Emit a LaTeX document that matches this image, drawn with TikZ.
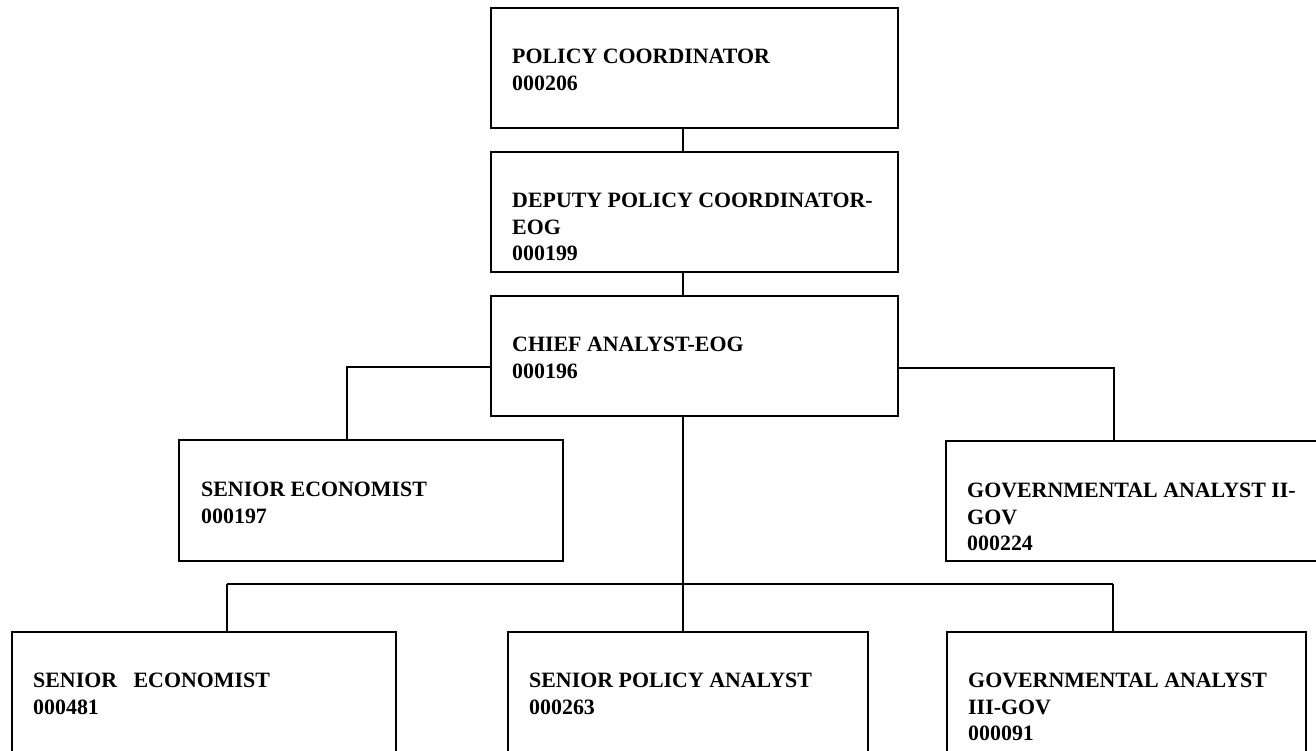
\documentclass[tikz,border=0pt]{standalone}
\usepackage{fontspec}
\setmainfont{Liberation Serif}
\begin{document}
\begin{tikzpicture}[x=1pt,y=-1pt,
  box/.style={draw, line width=2pt, rectangle, inner sep=0pt, outer sep=0pt, anchor=north west},
  txt/.style={anchor=north west, inner sep=0pt, align=left,
    font=\fontsize{21.9}{26.5}\selectfont\bfseries},
  link/.style={draw, line width=1.4pt}]
\useasboundingbox (0,0) rectangle (1316,750);
\clip (0,0) rectangle (1316,750);
\fill[white] (0,0) rectangle (1316,750);

% position boxes
\node[box, minimum width=407, minimum height=120] (pc)  at (491,8)   {};
\node[box, minimum width=407, minimum height=120] (dpc) at (491,152) {};
\node[box, minimum width=407, minimum height=120] (ca)  at (491,296) {};
\node[box, minimum width=384, minimum height=121] (se1) at (179,440) {};
\node[box, minimum width=384, minimum height=120] (ga2) at (946,441) {};
\node[box, minimum width=384, minimum height=120] (se2) at (12,632)  {};
\node[box, minimum width=360, minimum height=120] (spa) at (508,632) {};
\node[box, minimum width=359, minimum height=120] (ga3) at (947,632) {};

% titles and position numbers
\newcommand{\capstrut}{\rule{0pt}{14.6pt}}
\node[txt] (pct)  at ([shift={(21,41)}]pc.north west)  {\capstrut POLICY COORDINATOR\\000206};
\node[txt] (dpct) at ([shift={(21,41)}]dpc.north west) {\capstrut DEPUTY POLICY COORDINATOR-\\EOG\\000199};
\node[txt] (cat)  at ([shift={(21,41)}]ca.north west)  {\capstrut CHIEF ANALYST-EOG\\000196};
\node[txt] (se1t) at ([shift={(22,42)}]se1.north west) {\capstrut SENIOR ECONOMIST\\000197};
\node[txt] (ga2t) at ([shift={(21,42)}]ga2.north west) {\capstrut GOVERNMENTAL ANALYST II-\\GOV\\000224};
\node[txt] (se2t) at ([shift={(21,41)}]se2.north west) {\capstrut SENIOR\ \ \ ECONOMIST\\000481};
\node[txt] (spat) at ([shift={(21,41)}]spa.north west) {\capstrut SENIOR POLICY ANALYST\\000263};
\node[txt] (ga3t) at ([shift={(21,41)}]ga3.north west) {\capstrut GOVERNMENTAL ANALYST\\III-GOV\\000091};

% reporting lines
\coordinate (trunk) at (683,0);
\coordinate (lhook) at (347,367);
\coordinate (rhook) at (1114,368);
\coordinate (bus)   at (0,584);
\coordinate (busl)  at (227,0);
\coordinate (busr)  at (1113,0);

\draw[link] (pc.south -| trunk) -- (dpc.north -| trunk);
\draw[link] (dpc.south -| trunk) -- (ca.north -| trunk);
\draw[link] (ca.west |- lhook) -- (lhook) -- (se1.north -| lhook);
\draw[link] (ca.east |- rhook) -- (rhook) -- (ga2.north -| rhook);
\draw[link] (ca.south -| trunk) -- (spa.north -| trunk);
\draw[link] (busl |- bus) -- (busr |- bus);
\draw[link] (busl |- bus) -- (se2.north -| busl);
\draw[link] (busr |- bus) -- (ga3.north -| busr);
\end{tikzpicture}
\end{document}
